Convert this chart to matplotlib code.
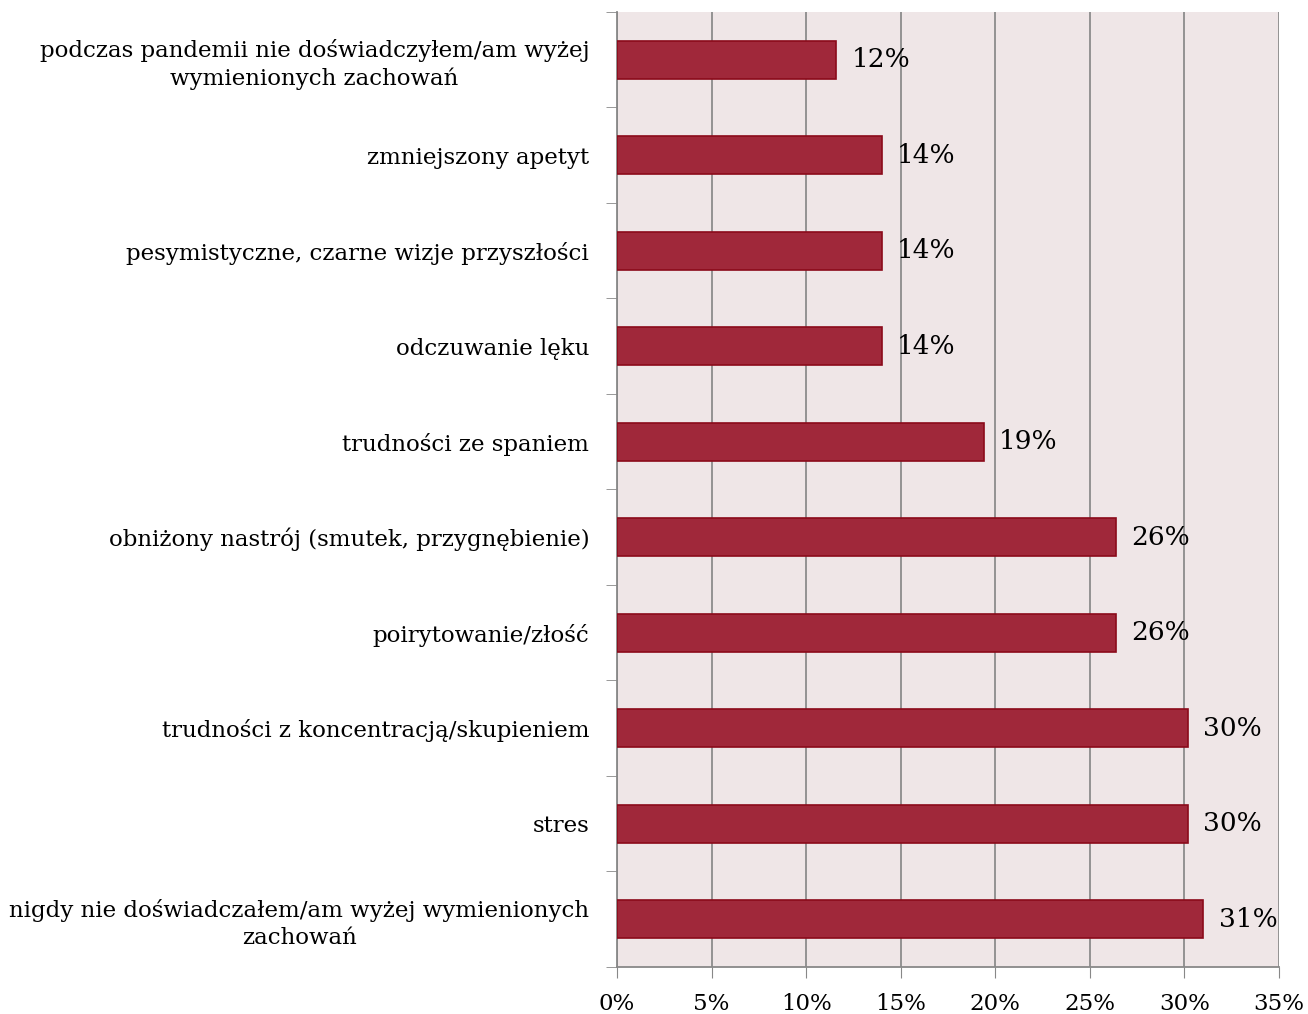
import matplotlib.pyplot as plt
import numpy as np

plt.rcParams['font.family'] = ['DejaVu Serif']

categories = [
    'podczas pandemii nie doświadczyłem/am wyżej\nwymienionych zachowań',
    'zmniejszony apetyt',
    'pesymistyczne, czarne wizje przyszłości',
    'odczuwanie lęku',
    'trudności ze spaniem',
    'obniżony nastrój (smutek, przygnębienie)',
    'poirytowanie/złość',
    'trudności z koncentracją/skupieniem',
    'stres',
    'nigdy nie doświadczałem/am wyżej wymienionych\nzachowań',
]
values = [11.6, 14.0, 14.0, 14.0, 19.4, 26.4, 26.4, 30.2, 30.2, 31.0]
labels = ['12%', '14%', '14%', '14%', '19%', '26%', '26%', '30%', '30%', '31%']
xticks = [0, 5, 10, 15, 20, 25, 30, 35]

fig = plt.figure(figsize=(13.08, 10.14), dpi=100)
ax = fig.add_axes([617 / 1308, 1 - 967 / 1014, 662 / 1308, 955 / 1014])
ax.set_facecolor('#efe6e7')

y = np.arange(len(categories))
ax.barh(y, values, height=0.4, color='#a0283a', edgecolor='#8b0a1a', linewidth=1.2, zorder=3)
for yi, v, lab in zip(y, values, labels):
    ax.annotate(lab, (v, yi), xytext=(11, 0), textcoords='offset points',
                va='center', ha='left', fontsize=19, zorder=4)

ax.set_xlim(0, 35)
ax.set_ylim(len(categories) - 0.5, -0.5)
ax.set_xticks(xticks)
ax.set_xticklabels([f'{t}%' for t in xticks], fontsize=16.5)
ax.set_yticks(y)
ax.set_yticklabels(categories, fontsize=16.5, ha='right', linespacing=1.3)
ax.tick_params(axis='y', length=0, pad=20)
ax.set_yticks(np.arange(-0.5, len(categories), 1), minor=True)
ax.tick_params(axis='y', which='minor', length=8, color='#888888')
ax.tick_params(axis='x', length=8, color='#888888', pad=11)
for t in ax.get_yticklabels():
    t.set_multialignment('center')

ax.grid(axis='x', color='#8c8c8c', linewidth=1.3, zorder=0)
for s in ['top', 'right']:
    ax.spines[s].set_visible(False)
ax.spines['left'].set_color('#888888')
ax.spines['bottom'].set_color('#888888')
ax.spines['left'].set_linewidth(1.3)
ax.spines['bottom'].set_linewidth(1.3)

fig.savefig('out.png', dpi=100)
